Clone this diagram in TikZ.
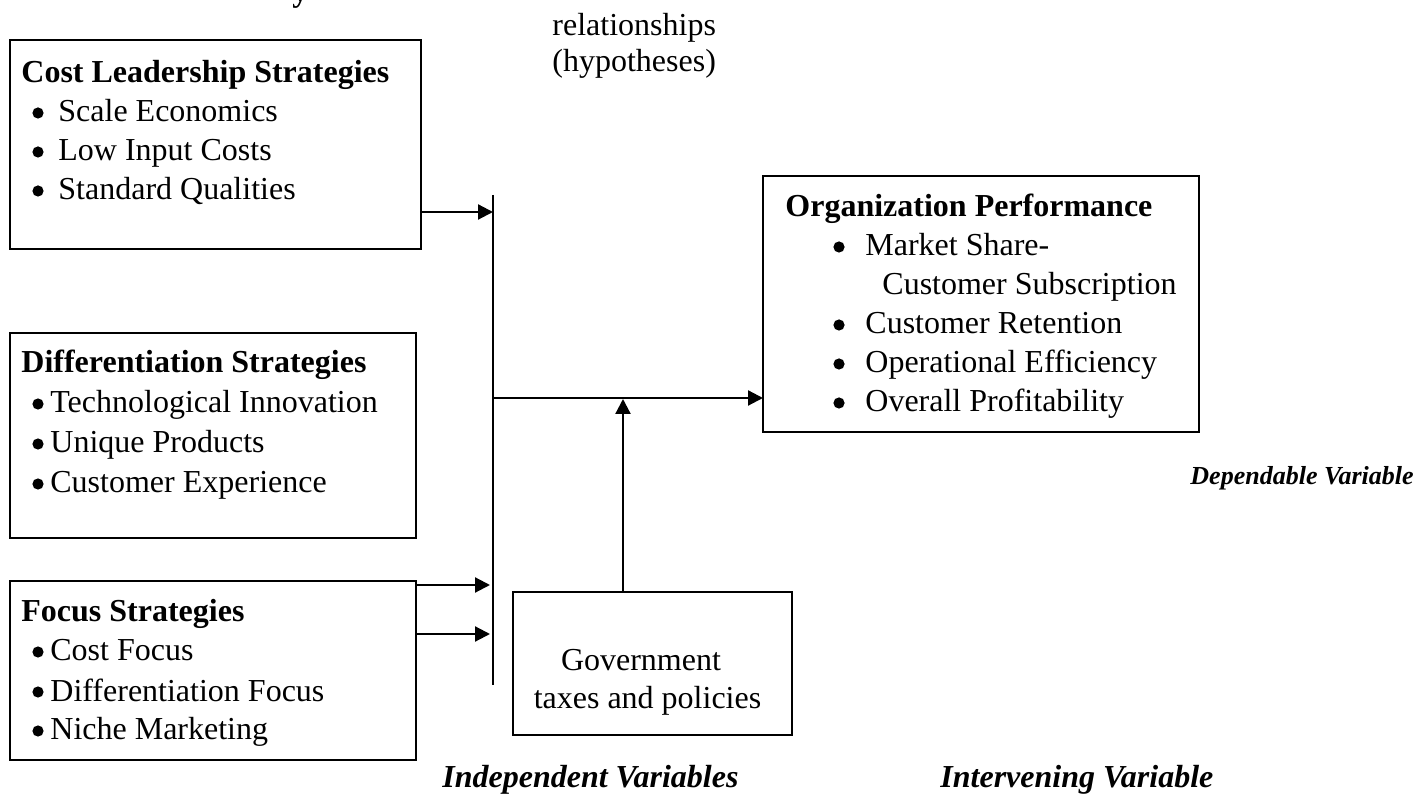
\documentclass[tikz,border=0pt]{standalone}
\usepackage{fontspec}
\setmainfont{Liberation Serif}
\usetikzlibrary{arrows.meta}
\begin{document}
\begin{tikzpicture}[x=0.5pt,y=-0.5pt,
  box/.style={draw, line width=1.1pt, inner sep=0pt, outer sep=0pt},
  txt/.style={anchor=base west, inner sep=0pt, font=\fontsize{16}{19}\selectfont},
  hd/.style={anchor=base west, inner sep=0pt, font=\fontsize{16}{19}\selectfont\bfseries},
  lbl/.style={anchor=base west, inner sep=0pt, font=\fontsize{16}{19}\selectfont\bfseries\itshape},
  bul/.style={circle, fill, inner sep=0pt, minimum size=5.6pt},
  arr/.style={-{Triangle[length=7.5pt,width=7.5pt]}, line width=1.1pt},
  bar/.style={line width=1.1pt}]
\useasboundingbox (0,0) rectangle (1419,801);

% clipped tail of a heading above the page
\node[hd] (ytail) at (292,2) {y};

% hypotheses caption
\node[txt] (rel1) at (552,36) {relationships};
\node[txt] (rel2) at (552,72) {(hypotheses)};

% cost leadership
\node[box, minimum width=205.5pt, minimum height=104.5pt] (cost) at (215.5,144.5) {};
\node[hd] (costh) at (21,83) {Cost Leadership Strategies};
\node[bul] (cb1) at (38,113) {};
\node[txt] (ct1) at (58,122) {Scale Economics};
\node[bul] (cb2) at (38,152) {};
\node[txt] (ct2) at (58,161) {Low Input Costs};
\node[bul] (cb3) at (38,191) {};
\node[txt] (ct3) at (58,200) {Standard Qualities};

% differentiation
\node[box, minimum width=203pt, minimum height=102.5pt] (diff) at (213,435.5) {};
\node[hd] (diffh) at (21,373) {Differentiation Strategies};
\node[bul] (db1) at (38,404) {};
\node[txt] (dt1) at (50,413) {Technological Innovation};
\node[bul] (db2) at (38,444) {};
\node[txt] (dt2) at (50,453) {Unique Products};
\node[bul] (db3) at (38,484) {};
\node[txt] (dt3) at (50,493) {Customer Experience};

% focus
\node[box, minimum width=203pt, minimum height=89.5pt] (focus) at (213,670.5) {};
\node[hd] (foch) at (21,622) {Focus Strategies};
\node[bul] (fb1) at (38,652) {};
\node[txt] (ft1) at (50,661) {Cost Focus};
\node[bul] (fb2) at (38,692) {};
\node[txt] (ft2) at (50,701) {Differentiation Focus};
\node[bul] (fb3) at (38,731) {};
\node[txt] (ft3) at (50,740) {Niche Marketing};

% organization performance
\node[box, minimum width=218pt, minimum height=128pt] (org) at (981,304) {};
\node[hd] (orgh) at (785,217) {Organization Performance};
\node[bul] (ob1) at (839,247) {};
\node[txt] (ot1) at (865,256) {Market Share-};
\node[txt] (ot1b) at (882,295) {Customer Subscription};
\node[bul] (ob2) at (839,325) {};
\node[txt] (ot2) at (865,334) {Customer Retention};
\node[bul] (ob3) at (839,364) {};
\node[txt] (ot3) at (865,373) {Operational Efficiency};
\node[bul] (ob4) at (839,403) {};
\node[txt] (ot4) at (865,412) {Overall Profitability};

% government
\node[box, minimum width=139.5pt, minimum height=71.5pt] (gov) at (652.5,663.5) {};
\node[txt, anchor=base] (gt1) at (641,670) {Government};
\node[txt, anchor=base] (gt2) at (647.5,708) {taxes and policies};

% variable labels
\node[lbl, anchor=base east, font=\fontsize{13}{15}\selectfont\bfseries\itshape] (dep) at (1414,485) {Dependable Variable};
\node[lbl] (indep) at (442,787) {Independent Variables};
\node[lbl] (interv) at (940,787) {Intervening Variable};

% connectors
\coordinate (bartop) at (493,195);
\coordinate (barbot) at (493,685);
\draw[bar] (bartop) -- (barbot);

\coordinate (a1) at (493,212);
\coordinate (a2) at (490,585);
\coordinate (a3) at (490,634);
\coordinate (hub) at (492,398);
\coordinate (gup) at (623,399);

\draw[arr] (cost.east |- a1) -- (a1);
\draw[arr] (focus.east |- a2) -- (a2);
\draw[arr] (focus.east |- a3) -- (a3);
\draw[arr] (hub) -- (hub -| org.west);
\draw[arr] (gup |- gov.north) -- (gup);
\end{tikzpicture}
\end{document}
